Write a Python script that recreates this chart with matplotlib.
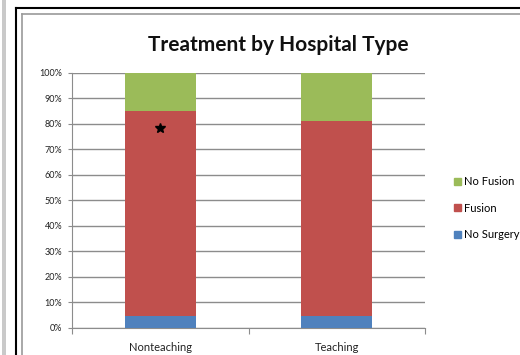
import matplotlib
matplotlib.use("Agg")
import matplotlib.pyplot as plt
from matplotlib.lines import Line2D
from matplotlib.patches import Patch
import numpy as np

categories = ["Nonteaching", "Teaching"]
series_names = ["No Surgery", "Fusion", "No Fusion"]
no_surgery = [4.7, 4.7]
fusion = [80.5, 76.3]
no_fusion = [14.8, 19.0]
star_value = 78.3
tick_labels = [f"{v}%" for v in range(0, 101, 10)]

colors = {"No Surgery": "#4F81BD", "Fusion": "#C0504D", "No Fusion": "#9BBB59"}

plt.rcParams["font.family"] = ["Lato", "DejaVu Sans"]

W, H = 520, 355
fig = plt.figure(figsize=(W / 100, H / 100), dpi=100)
fig.patch.set_facecolor("white")

# window frame lines around the chart area
def fline(xs, ys, color, lw):
    fig.add_artist(Line2D([x / W for x in xs], [1 - y / H for y in ys],
                          color=color, lw=lw, transform=fig.transFigure))

fig.add_artist(plt.Rectangle((2 / W, 0), 3.5 / W, 1, color="#c9c9c9",
                             transform=fig.transFigure, lw=0))
fline([16, 16], [7.5, H], "#000000", 1.5)
fline([16, W], [7.5, 7.5], "#000000", 1.5)
fline([22, 22], [14, H], "#9a9a9a", 1.2)
fline([22, W], [14, 14], "#9a9a9a", 1.2)

ax = fig.add_axes([72 / W, 1 - 327.7 / H, (425 - 72) / W, (327.7 - 73) / H])
x = np.arange(len(categories))
width = 0.4
bottom = np.zeros(len(categories))
for name, vals in zip(series_names, [no_surgery, fusion, no_fusion]):
    ax.bar(x, vals, width, bottom=bottom, color=colors[name], zorder=3)
    bottom += np.array(vals)

ax.plot([0], [star_value], marker="*", color="black", markersize=7, zorder=4)

ax.set_xlim(-0.5, 1.5)
ax.set_ylim(0, 100)
ax.set_yticks(np.arange(0, 101, 10))
ax.set_yticklabels(tick_labels, fontsize=6.5, color="#222222")
ax.yaxis.grid(True, color="#8c8c8c", lw=1, zorder=0)
ax.set_xticks([-0.5, 0.5, 1.5])
ax.set_xticklabels([])
ax.set_xticks(x, minor=True)
ax.set_xticklabels(categories, minor=True, fontsize=8, color="#222222")
ax.tick_params(axis="x", which="minor", length=0, pad=10)
ax.tick_params(axis="x", which="major", length=4, color="#8c8c8c", direction="out")
ax.tick_params(axis="y", length=3, color="#8c8c8c", direction="out", pad=4)
for s in ["top", "right"]:
    ax.spines[s].set_visible(False)
ax.spines["left"].set_color("#8c8c8c")
ax.spines["bottom"].set_color("#8c8c8c")

fig.text(278 / W, 1 - 45 / H, "Treatment by Hospital Type", ha="center", va="center",
         fontsize=15, fontweight="bold", color="#111111")

handles = [Patch(color=colors[n]) for n in reversed(series_names)]
fig.legend(handles, list(reversed(series_names)), loc="center left",
           bbox_to_anchor=(444 / W, 1 - 208 / H), frameon=False, fontsize=8,
           handlelength=0.6, handleheight=0.6, handletextpad=0.3, labelspacing=1.4)

fig.savefig("out.png", dpi=100)
